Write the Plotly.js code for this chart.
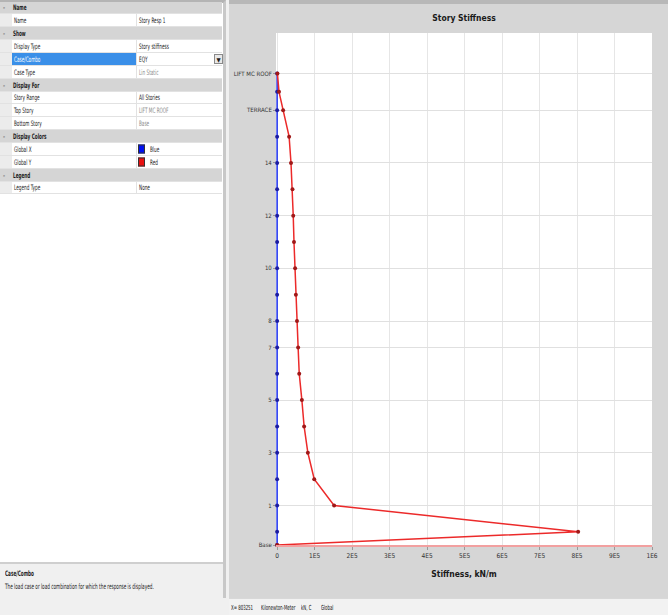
<!DOCTYPE html>
<html>
<head>
<meta charset="utf-8">
<script src="https://cdn.plot.ly/plotly-3.0.1.min.js"></script>
<style>
  html, body { margin: 0; padding: 0; }
  body {
    width: 668px; height: 615px; overflow: hidden; position: relative;
    background: #f0f0f0;
    font-family: "DejaVu Sans Condensed", "Liberation Sans Narrow", Arial, sans-serif;
    color: #1c1c1c;
  }
  #side {
    position: absolute; left: 0; top: 0; width: 226px; height: 598px;
    background: #ffffff; border-right: 3px solid #c8c8c8;
    border-top: 3px solid #b4b4b4; box-sizing: border-box;
  }
  .row { position: absolute; left: 0; width: 222px; font-size: 7.5px; box-sizing: border-box;
         border-bottom: 1px solid #e2e2e2; }
  .row span { position: absolute; top: 50%; transform: translateY(-50%) scaleX(0.62);
              transform-origin: left center; white-space: nowrap; }
  .hdr { background: #d5d5d5; font-weight: bold; }
  .gut { position: absolute; left: 0; top: 0; bottom: 0; width: 12px; background: #ececec; }
  .lab { position: absolute; left: 12px; top: 0; bottom: 0; width: 124px; border-right: 1px solid #e2e2e2; }
  .sel .lab { background: #3a8fe8; }
  .sel .lab span { color: #fff; }
  .grey span.val { color: #8c8c8c; }
  .sw { position: absolute; left: 138px; width: 7px; height: 9px; top: 50%; transform: translateY(-50%);
        border: 1px solid #333; box-sizing: border-box; }
  .dd { position: absolute; left: 214px; top: 1px; width: 9px; bottom: 1px; background: #e8e8e8;
        border: 1px solid #8a8a8a; box-sizing: border-box; font-size: 6px; text-align: center; line-height: 9px; }
  #desc { position: absolute; left: 0; top: 562px; width: 223px; height: 36px; background: #f0f0f0;
          border-top: 2px solid #cfcfcf; box-sizing: border-box; font-size: 7.5px; }
  #desc span { position: absolute; left: 5px; white-space: nowrap; transform: scaleX(0.62); transform-origin: left top; }
  #chartbox { position: absolute; left: 229px; top: 0; width: 439px; height: 598px; }
  #chartbox .bar { position: absolute; left: 0; top: 0; width: 439px; height: 4px; background: #b8b8b8; z-index: 2; }
  #status { position: absolute; left: 229px; top: 598px; width: 439px; height: 17px; background: #f2f2f2;
            border-top: 1px solid #d8d8d8; box-sizing: border-box; font-size: 7px; color: #111; }
  #status span { position: absolute; top: 5px; white-space: nowrap; transform: scaleX(0.62); transform-origin: left top; }
</style>
</head>
<body>

<div id="side"></div>
<div id="desc">
  <span style="top:5px;font-weight:bold;">Case/Combo</span>
  <span style="top:18px;">The load case or load combination for which the response is displayed.</span>
</div>

<div id="chartbox"><div class="bar"></div><div id="plot"></div></div>

<div id="status">
  <span style="left:2px;">X= 803251</span>
  <span style="left:32px;">Kilonewton-Meter</span>
  <span style="left:72px;">kN, C</span>
  <span style="left:92px;">Global</span>
</div>

<script>
// ---- Property grid content ----
const propKinds  = ["h", "r", "h", "r", "s", "g", "h", "r", "g", "g", "h", "c", "c", "h", "r"];
const propLabels = ["Name", "Name", "Show", "Display Type", "Case/Combo", "Case Type",
                    "Display For", "Story Range", "Top Story", "Bottom Story",
                    "Display Colors", "Global X", "Global Y", "Legend", "Legend Type"];
const propValues = ["", "Story Resp 1", "", "Story stiffness", "EQY", "Lin Static",
                    "", "All Stories", "LIFT MC ROOF", "Base",
                    "", "Blue", "Red", "", "None"];
const propSwatch = ["", "", "", "", "", "", "", "", "", "", "", "#0010f0", "#e81010", "", ""];

// ---- Story data ----
const storyNames = ["Base", "GF", "1", "2", "3", "4", "5", "6", "7", "8", "9", "10",
                    "11", "12", "13", "14", "15", "TERRACE", "MUMTY", "LIFT MC ROOF"];
const storyElev  = [0, 1.5, 4.5, 7.5, 10.5, 13.5, 16.5, 19.5, 22.5, 25.5, 28.5, 31.5,
                    34.5, 37.5, 40.5, 43.5, 46.5, 49.5, 51.6, 53.7];
// Story stiffness, kN/m
const stiffGlobalX = [0, 0, 0, 0, 0, 0, 0, 0, 0, 0, 0, 0, 0, 0, 0, 0, 0, 0, 0, 0];
const stiffGlobalY = [0, 803000, 152000, 99000, 82000, 72000, 66000, 59000, 56000, 53000,
                      50000, 48000, 45000, 43000, 41000, 37000, 32000, 16000, 5000, 800];

// ---- Axis labels ----
const yTickStories = ["Base", "1", "3", "5", "7", "8", "10", "12", "14", "TERRACE", "LIFT MC ROOF"];
const xTickVals = [0, 100000, 200000, 300000, 400000, 500000, 600000, 700000, 800000, 900000, 1000000];
const xTickText = ["0", "1E5", "2E5", "3E5", "4E5", "5E5", "6E5", "7E5", "8E5", "9E5", "1E6"];

// Build the property grid
const side = document.getElementById("side");
const rowH = 12.86;
propKinds.forEach((k, i) => {
  const row = document.createElement("div");
  row.className = "row" + (k === "h" ? " hdr" : "") + (k === "s" ? " sel" : "") + (k === "g" ? " grey" : "");
  row.style.top = (i * rowH - 1.5) + "px";
  row.style.height = rowH + "px";
  if (k === "h") {
    row.innerHTML = '<span style="left:3px;font-weight:normal;">&#8211;</span>' +
                    '<span style="left:13px;">' + propLabels[i] + '</span>';
  } else {
    let html = '<div class="gut"></div><div class="lab"><span style="left:2px;">' + propLabels[i] + '</span></div>';
    if (k === "c") {
      html += '<div class="sw" style="background:' + propSwatch[i] + ';"></div>' +
              '<span class="val" style="left:150px;">' + propValues[i] + '</span>';
    } else {
      html += '<span class="val" style="left:139px;">' + propValues[i] + '</span>';
    }
    if (k === "s") html += '<div class="dd">&#9660;</div>';
    row.innerHTML = html;
  }
  side.appendChild(row);
});

// ---- Chart ----
const fontFam = "DejaVu Sans Condensed, Liberation Sans Narrow, Arial, sans-serif";
const yTickVals = yTickStories.map(n => storyElev[storyNames.indexOf(n)]);

const traces = [
  {
    x: stiffGlobalX, y: storyElev, text: storyNames, name: "Global X",
    type: "scatter", mode: "lines+markers", cliponaxis: false,
    line: { color: "#2a3cf0", width: 1.6 },
    marker: { color: "#1c1ca0", size: 4 }
  },
  {
    x: stiffGlobalY, y: storyElev, text: storyNames, name: "Global Y",
    type: "scatter", mode: "lines+markers", cliponaxis: false,
    line: { color: "#ec2a2a", width: 1.5 },
    marker: { color: "#a01818", size: 4 }
  }
];

const layout = {
  width: 439, height: 598,
  paper_bgcolor: "#d6d6d6", plot_bgcolor: "#ffffff",
  margin: { l: 47, r: 16, t: 33, b: 53 },
  showlegend: false,
  font: { family: fontFam, size: 7, color: "#222" },
  title: {
    text: "Story Stiffness", x: 0.5, xref: "paper", y: 1 - 18 / 598, yref: "container",
    xanchor: "center", yanchor: "middle",
    font: { family: fontFam, size: 8.5, weight: "bold", color: "#1a1a1a" }
  },
  xaxis: {
    range: [-3000, 1000000], tickmode: "array", tickvals: xTickVals, ticktext: xTickText,
    showgrid: true, gridcolor: "#e6e6e6", gridwidth: 1, zeroline: false,
    showline: true, linecolor: "#f2a0a0", linewidth: 2,
    ticks: "outside", ticklen: 3, tickcolor: "#999",
    tickfont: { family: fontFam, size: 6.5, color: "#333" },
    title: { text: "Stiffness, kN/m", standoff: 12,
             font: { family: fontFam, size: 8.5, weight: "bold", color: "#1a1a1a" } },
    fixedrange: true
  },
  yaxis: {
    range: [0, 58.3], tickmode: "array", tickvals: yTickVals, ticktext: yTickStories,
    showgrid: true, gridcolor: "#e0e0e0", gridwidth: 1, zeroline: false,
    showline: false, ticks: "outside", ticklen: 2, tickcolor: "#999",
    tickfont: { family: fontFam, size: 6, color: "#333" },
    fixedrange: true
  }
};

Plotly.newPlot("plot", traces, layout, { staticPlot: true, displayModeBar: false });
</script>
</body>
</html>
